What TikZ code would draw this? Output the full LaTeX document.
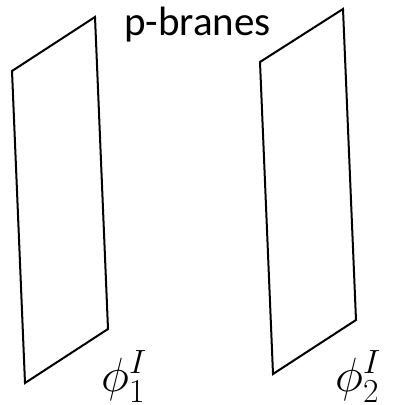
\documentclass[tikz,border=0pt]{standalone}
\usepackage{fix-cm}
\usepackage{fontspec}
\setmainfont{Carlito}
\usetikzlibrary{positioning,calc}

\begin{document}
\begin{tikzpicture}[x=1pt,y=-1pt,
 brane/.style={draw=black,line width=2pt,line join=miter},
 title/.style={font=\fontsize{41}{48}\selectfont,inner sep=0pt,anchor=base},
 field/.style={font=\fontsize{48}{56}\selectfont,inner sep=0pt,anchor=base west}]
\useasboundingbox (0,0) rectangle (394,405);
% left brane
\coordinate (l1) at (12,71);
\coordinate (l2) at (95,17);
\coordinate (l3) at (108,329);
\coordinate (l4) at (25,383);
\draw[brane] (l1) -- (l2) -- (l3) -- (l4) -- cycle;
% right brane
\coordinate (r1) at (260,62);
\coordinate (r2) at (343,9);
\coordinate (r3) at (356,320);
\coordinate (r4) at (273,374);
\draw[brane] (r1) -- (r2) -- (r3) -- (r4) -- cycle;
% labels
\node[title] (t) at (197.5,35) {p-branes};
\node[field] (f1) at (101,391) {$\phi_1^I$};
\node[field] (f2) at (335,391) {$\phi_2^I$};
\end{tikzpicture}
\end{document}
